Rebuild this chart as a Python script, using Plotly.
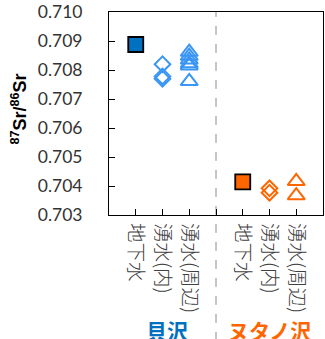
import plotly.graph_objects as go

# Sample types along the x axis (same order for both streams)
categories = ["地下水", "湧水(内)", "湧水(周辺)"]
streams = ["貝沢", "ヌタノ沢"]

# 87Sr/86Sr ratios, 貝沢
kai_groundwater = [0.70888]
kai_spring_in = [0.70820, 0.70778, 0.70770]
kai_spring_around = [0.70862, 0.70848, 0.70835, 0.70822, 0.70815, 0.70761]

# 87Sr/86Sr ratios, ヌタノ沢
nuta_groundwater = [0.70414]
nuta_spring_in = [0.70392, 0.70377]
nuta_spring_around = [0.70416, 0.70367]

y_ticks = [0.703, 0.704, 0.705, 0.706, 0.707, 0.708, 0.709, 0.710]

BLUE_DARK = "#0070C0"
BLUE_LIGHT = "#3A96F5"
ORANGE = "#FF6600"

fig = go.Figure()

def add_group(offset, gw, sp_in, sp_around, fill, light):
    # groundwater: filled square with black edge
    fig.add_trace(go.Scatter(
        x=[offset + 1] * len(gw), y=gw, mode="markers",
        marker=dict(symbol="square", size=15, color=fill,
                    line=dict(color="black", width=1.8)),
        showlegend=False, hoverinfo="y"))
    # spring water inside: open diamonds
    fig.add_trace(go.Scatter(
        x=[offset + 2] * len(sp_in), y=sp_in, mode="markers",
        marker=dict(symbol="diamond-open", size=12, color=light,
                    line=dict(width=2)),
        showlegend=False, hoverinfo="y"))
    # spring water around: open triangles
    fig.add_trace(go.Scatter(
        x=[offset + 3] * len(sp_around), y=sp_around, mode="markers",
        marker=dict(symbol="triangle-up-open", size=15, color=light,
                    line=dict(width=2)),
        showlegend=False, hoverinfo="y"))

add_group(0, kai_groundwater, kai_spring_in, kai_spring_around, BLUE_DARK, BLUE_LIGHT)
add_group(4, nuta_groundwater, nuta_spring_in, nuta_spring_around, ORANGE, ORANGE)

tick_positions = [1, 2, 3, 4, 5, 6, 7]
tick_text = categories + [""] + categories

# dashed separator between the two streams, running down through the labels
fig.add_shape(type="line", xref="x", yref="paper", x0=4, x1=4, y0=-0.62, y1=1,
              line=dict(color="#8C8C8C", width=1, dash="dash"), layer="below")

# stream names under the category labels
for name, xpos, col in [(streams[0], 2.17, BLUE_DARK), (streams[1], 5.99, ORANGE)]:
    fig.add_annotation(x=xpos, xref="x", y=-0.485, yref="paper", text=f"<b>{name}</b>",
                       showarrow=False, yanchor="top", xanchor="center",
                       font=dict(family="Noto Sans CJK JP", size=21, color=col))

# y-axis title
fig.add_annotation(x=-0.42, xref="paper", y=0.52, yref="paper",
                   text="<b><sup>87</sup>Sr/<sup>86</sup>Sr</b>", textangle=-90,
                   showarrow=False, xanchor="center", yanchor="middle",
                   font=dict(family="Liberation Sans, Arial", size=18, color="black"))

fig.update_layout(
    width=325, height=339,
    margin=dict(l=109, r=2, t=12, b=124),
    paper_bgcolor="white", plot_bgcolor="white",
    xaxis=dict(range=[0, 8], tickmode="array", tickvals=tick_positions, ticktext=tick_text,
               tickangle=90, ticks="inside", ticklen=6, tickcolor="black",
               showline=True, linecolor="black", linewidth=1, mirror=True,
               showgrid=False, zeroline=False, ticklabelstandoff=3,
               tickfont=dict(family="Noto Sans CJK JP", size=19.5, weight=300, color="#404040")),
    yaxis=dict(range=[0.703, 0.710], tickmode="array", tickvals=y_ticks,
               tickformat=".3f", ticks="inside", ticklen=6, tickcolor="black",
               showline=True, linecolor="black", linewidth=1, mirror=True,
               showgrid=False, zeroline=False, ticklabelstandoff=22,
               tickfont=dict(family="Lato, Open Sans", size=17.5, color="#333333")),
)

fig.write_html("out.html")
